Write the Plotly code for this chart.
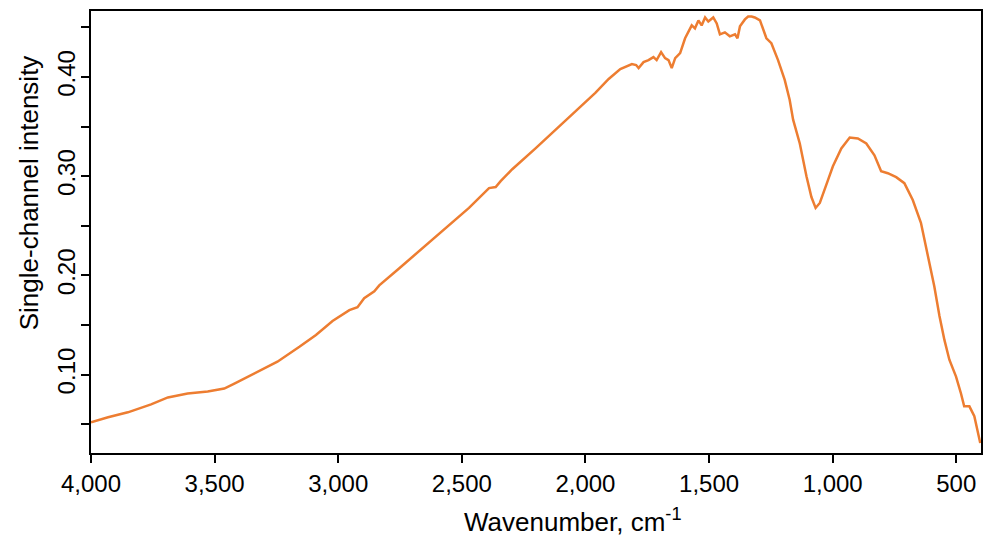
import plotly.graph_objects as go

wavenumber = [4000, 3931, 3851, 3757, 3689, 3609, 3528, 3461, 3420, 3340, 3246, 3157, 3090,
              3023, 2982, 2955, 2922, 2895, 2854, 2834, 2754, 2666, 2560, 2471, 2390, 2363,
              2343, 2296, 2202, 2095, 2000, 1960, 1906, 1859, 1812, 1795, 1785, 1765, 1745,
              1725, 1712, 1694, 1678, 1664, 1651, 1637, 1617, 1597, 1570, 1557, 1543, 1530,
              1516, 1503, 1483, 1469, 1456, 1436, 1416, 1395, 1385, 1375, 1355, 1342, 1328,
              1315, 1294, 1268, 1248, 1221, 1194, 1174, 1160, 1133, 1106, 1086, 1069, 1052,
              1019, 999, 965, 931, 898, 864, 831, 804, 777, 743, 710, 676, 643, 616, 589,
              568, 548, 528, 501, 481, 468, 447, 427, 403]
intensity = [0.052, 0.057, 0.062, 0.070, 0.077, 0.081, 0.083, 0.086, 0.091, 0.101, 0.113, 0.128, 0.140,
             0.154, 0.161, 0.165, 0.168, 0.177, 0.184, 0.190, 0.207, 0.226, 0.248, 0.268, 0.288, 0.289,
             0.295, 0.307, 0.328, 0.353, 0.375, 0.384, 0.398, 0.408, 0.413, 0.412, 0.409, 0.415, 0.417,
             0.420, 0.417, 0.425, 0.419, 0.417, 0.409, 0.419, 0.424, 0.439, 0.452, 0.449, 0.457, 0.452,
             0.460, 0.456, 0.460, 0.454, 0.443, 0.445, 0.441, 0.443, 0.439, 0.451, 0.458, 0.461, 0.461,
             0.460, 0.457, 0.439, 0.434, 0.417, 0.397, 0.377, 0.357, 0.333, 0.300, 0.279, 0.268, 0.273,
             0.296, 0.310, 0.328, 0.339, 0.338, 0.333, 0.321, 0.305, 0.303, 0.299, 0.293, 0.276, 0.253, 0.222, 0.189,
             0.159, 0.135, 0.115, 0.098, 0.081, 0.068, 0.068, 0.058, 0.031]

x_ticks = [4000, 3500, 3000, 2500, 2000, 1500, 1000, 500]
x_labels = ["4,000", "3,500", "3,000", "2,500", "2,000", "1,500", "1,000", "500"]
y_ticks = [0.10, 0.20, 0.30, 0.40]
y_labels = ["0.10", "0.20", "0.30", "0.40"]

fig = go.Figure()
fig.add_trace(go.Scatter(x=wavenumber, y=intensity, mode="lines",
                         line=dict(color="#ED7D31", width=2.5), showlegend=False))

font = dict(family="Liberation Sans, Arial, sans-serif", color="black")

fig.update_layout(
    width=989, height=538,
    margin=dict(l=91, r=6, t=11, b=85),
    paper_bgcolor="white", plot_bgcolor="white",
    font=dict(**font, size=24),
    xaxis=dict(range=[4000, 400], tickvals=x_ticks, ticktext=x_labels,
               showline=True, linecolor="black", linewidth=2, mirror=True,
               ticks="outside", ticklen=8, tickwidth=2, tickcolor="black",
               showgrid=False, zeroline=False,
               tickfont=dict(**font, size=24)),
    yaxis=dict(range=[0.021, 0.4665], tickvals=y_ticks, ticktext=y_labels, tickangle=-90,
               showline=True, linecolor="black", linewidth=2, mirror=True,
               ticks="outside", ticklen=8, tickwidth=2, tickcolor="black",
               ticklabelstandoff=-4,
               minor=dict(tick0=0.05, dtick=0.1, ticks="outside", ticklen=8, tickwidth=2,
                          tickcolor="black", showgrid=False),
               showgrid=False, zeroline=False,
               tickfont=dict(**font, size=24)),
    annotations=[
        dict(text="Wavenumber, cm<sup>-1</sup>", xref="paper", yref="paper",
             x=0.5415, y=-0.1516, xanchor="center", yanchor="middle",
             showarrow=False, font=dict(**font, size=26)),
        dict(text="Single-channel intensity", xref="paper", yref="paper",
             x=-0.0695, y=0.588, xanchor="center", yanchor="middle", textangle=-90,
             showarrow=False, font=dict(**font, size=26)),
    ],
)

fig.write_html("out.html")
